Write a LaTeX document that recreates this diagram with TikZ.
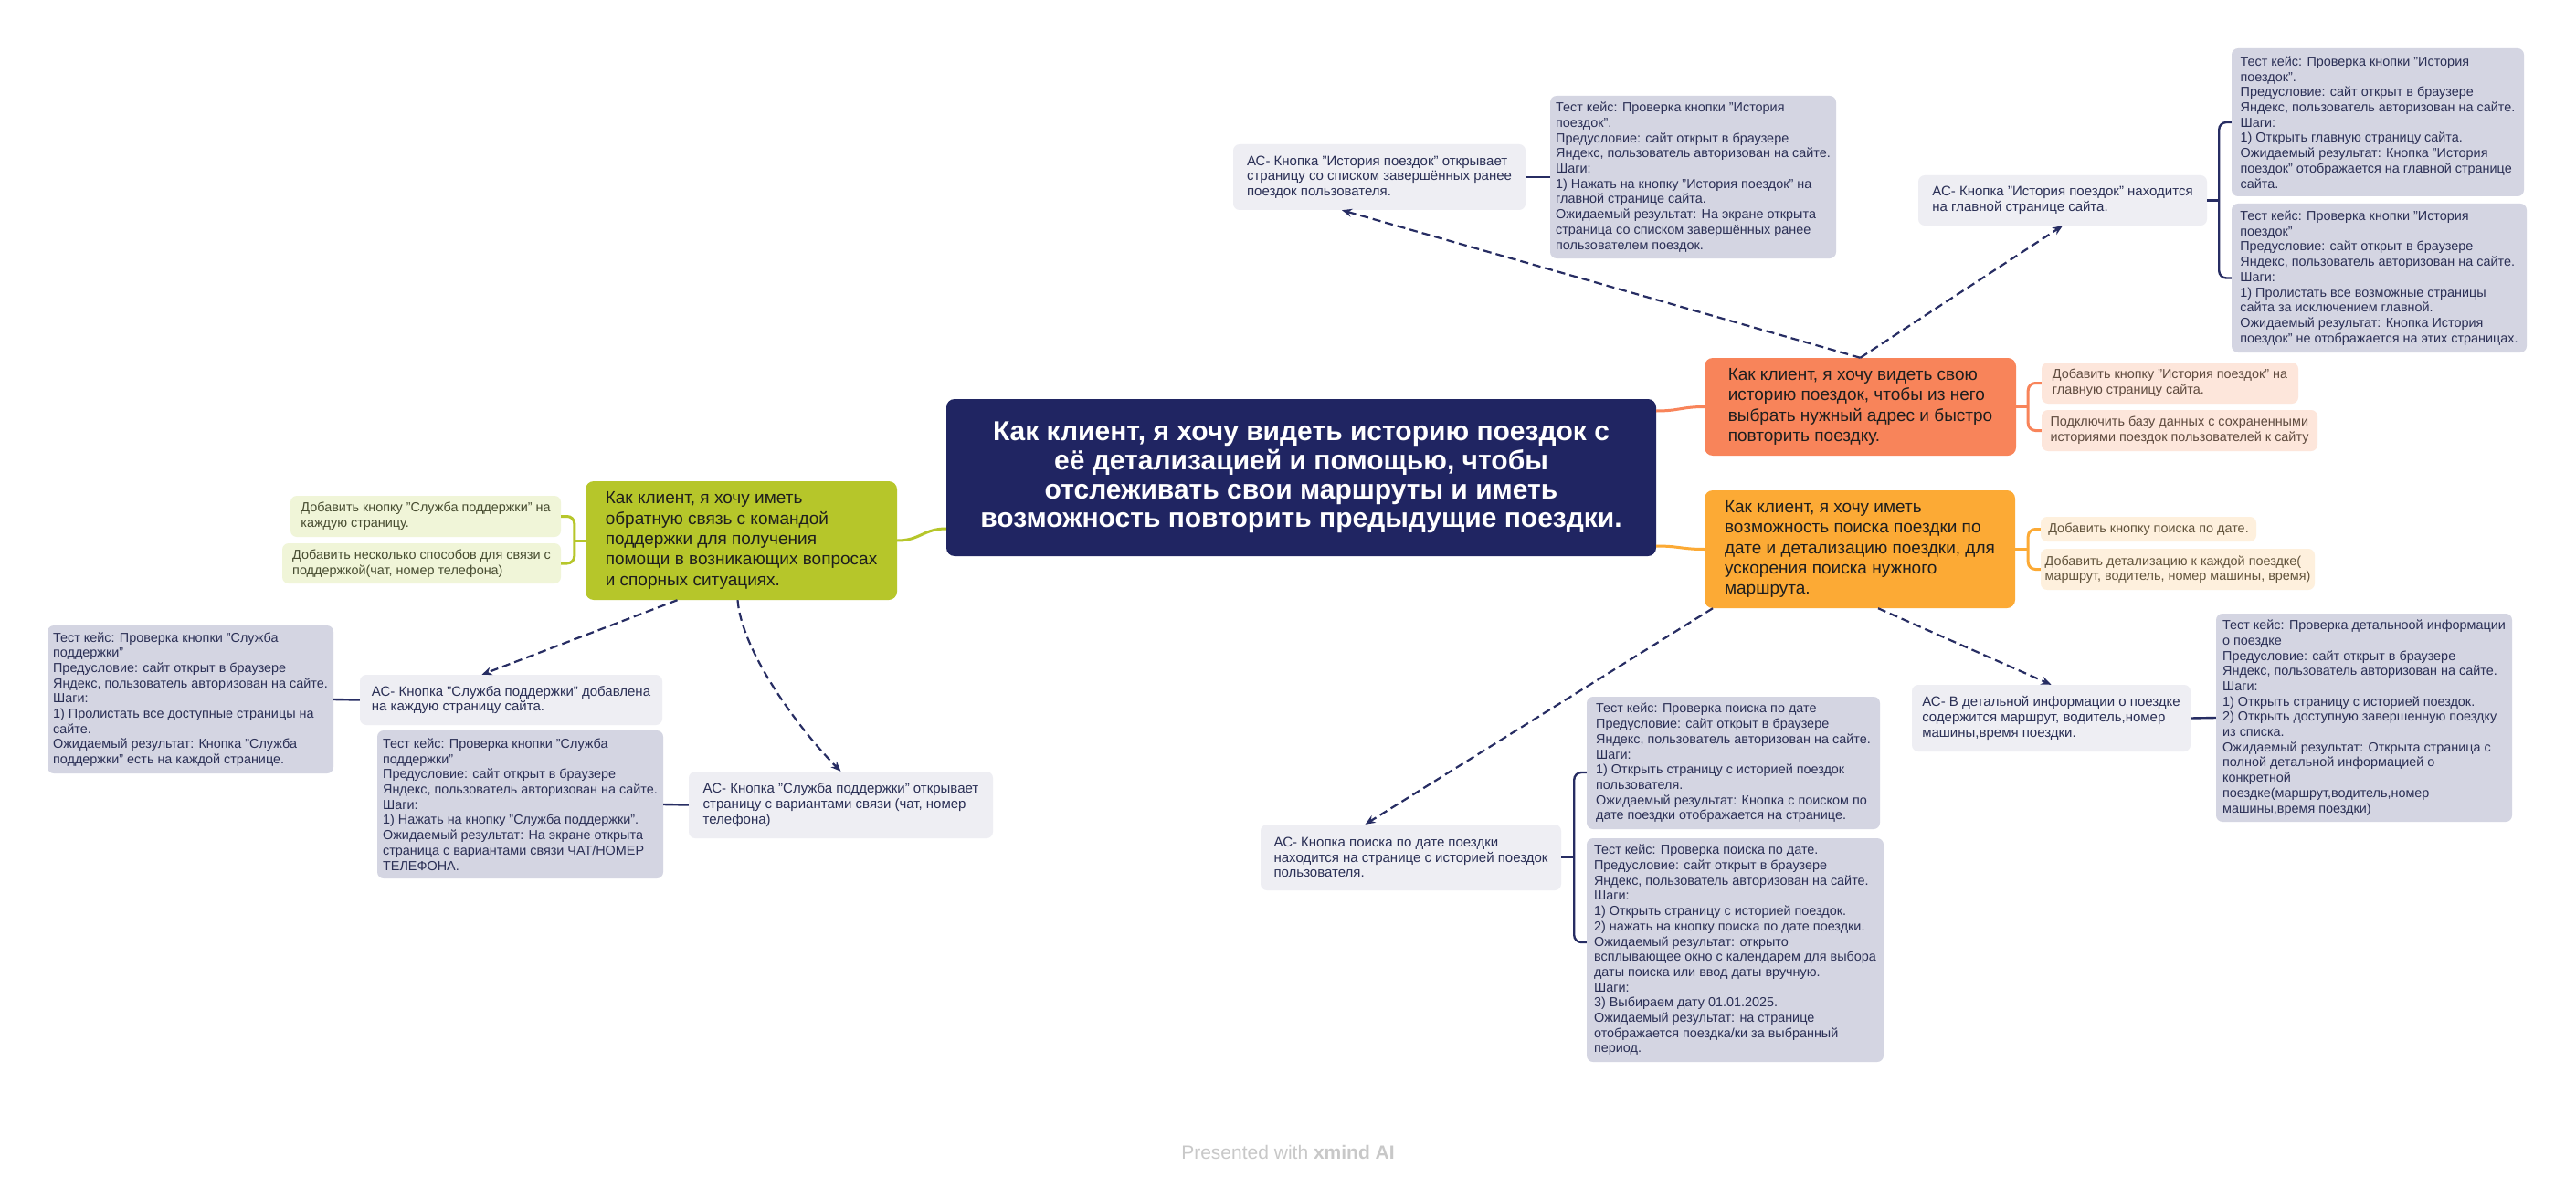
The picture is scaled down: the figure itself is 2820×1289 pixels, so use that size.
\documentclass[tikz,border=0pt]{standalone}
\usepackage{fontspec}
\setmainfont{Liberation Sans}
\usetikzlibrary{calc,arrows.meta}
\definecolor{navy}{HTML}{202562}
\definecolor{lnavy}{HTML}{272D63}
\definecolor{txt}{HTML}{2A2F55}
\definecolor{acbg}{HTML}{EEEEF3}
\definecolor{tcbg}{HTML}{D4D5E2}
\definecolor{fone}{HTML}{F8845A}
\definecolor{ftwo}{HTML}{FCAA35}
\definecolor{fgr}{HTML}{B6C62A}
\definecolor{onebg}{HTML}{FDE6DB}
\definecolor{twobg}{HTML}{FEF0DD}
\definecolor{grbg}{HTML}{F0F5D8}
\definecolor{onetx}{HTML}{5E4A3E}
\definecolor{twotx}{HTML}{62543C}
\definecolor{grtx}{HTML}{474C30}
\definecolor{ftxt}{HTML}{1E1E1E}
\definecolor{wm}{HTML}{C8C8C8}
\newcommand\mysmall{\fontsize{14.4pt}{16.7pt}\selectfont}
\newcommand\myac{\fontsize{15pt}{16.7pt}\selectfont}
\newcommand\mymid{\fontsize{19pt}{22.3pt}\selectfont}
\newcommand\mybig{\fontsize{30pt}{31.7pt}\selectfont\bfseries}
\newcommand\mywm{\fontsize{21pt}{24pt}\selectfont}
\begin{document}
\begin{tikzpicture}[x=1pt,y=-1pt,
  box/.style={rounded corners=7pt, inner sep=0pt, align=left, anchor=center},
  tcbox/.style={box, fill=tcbg, text=txt, font=\mysmall},
  acbox/.style={box, fill=acbg, text=txt, font=\myac},
  featbox/.style={box, font=\mymid, text=ftxt, rounded corners=9pt},
  onech/.style={box, fill=onebg, text=onetx, font=\mysmall},
  twoch/.style={box, fill=twobg, text=twotx, font=\mysmall},
  grch/.style={box, fill=grbg, text=grtx, font=\mysmall},
  nline/.style={draw=lnavy, line width=2.4pt},
  brk/.style={nline, rounded corners=8pt},
  rel/.style={draw=lnavy, line width=2.2pt, dash pattern=on 9pt off 5pt, -{Stealth[length=11pt,width=9pt]}},
  onel/.style={draw=fone, line width=3pt},
  twol/.style={draw=ftwo, line width=3pt},
  grl/.style={draw=fgr, line width=3pt}
]
\useasboundingbox[fill=white] (0,0) rectangle (2820,1289);

% central
\node[box, fill=navy, text=white, font=\mybig, align=center, rounded corners=9pt,
  minimum width=777pt, minimum height=172pt] (c) at (1424.5,523)
  {Как клиент, я хочу видеть историю поездок с\\её детализацией и помощью, чтобы\\отслеживать свои маршруты и иметь\\возможность повторить предыдущие поездки.};

% feature nodes
\node[featbox, fill=fone, minimum width=341pt, minimum height=107pt] (f1) at (2036.5,445.5)
  {Как клиент, я хочу видеть свою\\историю поездок, чтобы из него\\выбрать нужный адрес и быстро\\повторить поездку.};
\node[featbox, fill=ftwo, minimum width=340pt, minimum height=129pt] (f2) at (2036,601.5)
  {Как клиент, я хочу иметь\\возможность поиска поездки по\\дате и детализацию поездки, для\\ускорения поиска нужного\\маршрута.};
\node[featbox, fill=fgr, minimum width=341pt, minimum height=130pt] (g) at (811.5,592)
  {Как клиент, я хочу иметь\\обратную связь с командой\\поддержки для получения\\помощи в возникающих вопросах\\и спорных ситуациях.};

% children of features
\node[onech, minimum width=281pt, minimum height=45pt] (f1a) at (2375.5,419.5)
  {Добавить кнопку "История поездок" на\\главную страницу сайта.};
\node[onech, minimum width=302pt, minimum height=45pt] (f1b) at (2386,471.5)
  {Подключить базу данных с сохраненными\\историями поездок пользователей к сайту};
\node[twoch, minimum width=236pt, minimum height=27pt] (f2a) at (2352,579.5)
  {Добавить кнопку поиска по дате.};
\node[twoch, minimum width=300pt, minimum height=45pt] (f2b) at (2384,623.5)
  {Добавить детализацию к каждой поездке(\\маршрут, водитель, номер машины, время)};
\node[grch, minimum width=296pt, minimum height=45pt] (ga) at (466,565.5)
  {Добавить кнопку "Служба поддержки" на\\каждую страницу.};
\node[grch, minimum width=305pt, minimum height=44pt] (gb) at (461.5,617)
  {Добавить несколько способов для связи с\\поддержкой(чат, номер телефона)};

% AC nodes
\node[acbox, minimum width=320pt, minimum height=72pt] (ac1) at (1510,194)
  {АС- Кнопка "История поездок" открывает\\страницу со списком завершённых ранее\\поездок пользователя.};
\node[acbox, minimum width=316pt, minimum height=55pt] (ac2) at (2258,219.5)
  {АС- Кнопка "История поездок" находится\\на главной странице сайта.};
\node[acbox, minimum width=331pt, minimum height=55pt] (ac3) at (559.5,766.5)
  {АС- Кнопка "Служба поддержки" добавлена\\на каждую страницу сайта.};
\node[acbox, minimum width=333pt, minimum height=73pt] (ac4) at (920.5,881.5)
  {АС- Кнопка "Служба поддержки" открывает\\страницу с вариантами связи (чат, номер\\телефона)};
\node[acbox, minimum width=329pt, minimum height=72pt] (ac5) at (1544.5,939)
  {АС- Кнопка поиска по дате поездки\\находится на странице с историей поездок\\пользователя.};
\node[acbox, minimum width=305pt, minimum height=73pt] (ac6) at (2245.5,786.5)
  {АС- В детальной информации о поездке\\содержится маршрут, водитель,номер\\машины,время поездки.};

% test case nodes
\node[tcbox, minimum width=313pt, minimum height=178pt] (tc1) at (1853.5,194)
  {Тест кейс: Проверка кнопки "История\\поездок".\\Предусловие: сайт открыт в браузере\\Яндекс, пользователь авторизован на сайте.\\Шаги:\\1) Нажать на кнопку "История поездок" на\\главной странице сайта.\\Ожидаемый результат: На экране открыта\\страница со списком завершённых ранее\\пользователем поездок.};
\node[tcbox, minimum width=320pt, minimum height=162pt] (tc2a) at (2603,134)
  {Тест кейс: Проверка кнопки "История\\поездок".\\Предусловие: сайт открыт в браузере\\Яндекс, пользователь авторизован на сайте.\\Шаги:\\1) Открыть главную страницу сайта.\\Ожидаемый результат: Кнопка "История\\поездок" отображается на главной странице\\сайта.};
\node[tcbox, minimum width=323pt, minimum height=163pt] (tc2b) at (2604.5,304.5)
  {Тест кейс: Проверка кнопки "История\\поездок"\\Предусловие: сайт открыт в браузере\\Яндекс, пользователь авторизован на сайте.\\Шаги:\\1) Пролистать все возможные страницы\\сайта за исключением главной.\\Ожидаемый результат: Кнопка История\\поездок" не отображается на этих страницах.};
\node[tcbox, minimum width=313pt, minimum height=162pt] (tc3) at (208.5,766)
  {Тест кейс: Проверка кнопки "Служба\\поддержки"\\Предусловие: сайт открыт в браузере\\Яндекс, пользователь авторизован на сайте.\\Шаги:\\1) Пролистать все доступные страницы на\\сайте.\\Ожидаемый результат: Кнопка "Служба\\поддержки" есть на каждой странице.};
\node[tcbox, minimum width=313pt, minimum height=162pt] (tc4) at (569.5,881)
  {Тест кейс: Проверка кнопки "Служба\\поддержки"\\Предусловие: сайт открыт в браузере\\Яндекс, пользователь авторизован на сайте.\\Шаги:\\1) Нажать на кнопку "Служба поддержки".\\Ожидаемый результат: На экране открыта\\страница с вариантами связи ЧАТ/НОМЕР\\ТЕЛЕФОНА.};
\node[tcbox, minimum width=321pt, minimum height=145pt] (tc5a) at (1897.5,835.5)
  {Тест кейс: Проверка поиска по дате\\Предусловие: сайт открыт в браузере\\Яндекс, пользователь авторизован на сайте.\\Шаги:\\1) Открыть страницу с историей поездок\\пользователя.\\Ожидаемый результат: Кнопка с поиском по\\дате поездки отображается на странице.};
\node[tcbox, minimum width=325pt, minimum height=245pt] (tc5b) at (1899.5,1040.5)
  {Тест кейс: Проверка поиска по дате.\\Предусловие: сайт открыт в браузере\\Яндекс, пользователь авторизован на сайте.\\Шаги:\\1) Открыть страницу с историей поездок.\\2) нажать на кнопку поиска по дате поездки.\\Ожидаемый результат: открыто\\всплывающее окно с календарем для выбора\\даты поиска или ввод даты вручную.\\Шаги:\\3) Выбираем дату 01.01.2025.\\Ожидаемый результат: на странице\\отображается поездка/ки за выбранный\\период.};
\node[tcbox, minimum width=324pt, minimum height=228pt] (tc6) at (2588,786)
  {Тест кейс: Проверка детальноой информации\\о поездке\\Предусловие: сайт открыт в браузере\\Яндекс, пользователь авторизован на сайте.\\Шаги:\\1) Открыть страницу с историей поездок.\\2) Открыть доступную завершенную поездку\\из списка.\\Ожидаемый результат: Открыта страница с\\полной детальной информацией о\\конкретной\\поездке(маршрут,водитель,номер\\машины,время поездки)};

% watermark
\node[text=wm, font=\mywm, inner sep=0pt] (wmk) at (1410,1262) {Presented with \textbf{xmind AI}};

% central connectors
\draw[onel] ($(c.east)+(0,-73)$) .. controls +(25,0) and +(-25,0) .. (f1.west);
\draw[twol] ($(c.east)+(0,75)$) .. controls +(25,0) and +(-25,0) .. (f2.west);
\draw[grl] (g.east) .. controls +(25,0) and +(-25,0) .. ($(c.west)+(0,56)$);

% feature brackets
\coordinate (bf1) at ($(f1.east)+(13,0)$);
\draw[onel] (f1.east) -- (bf1);
\draw[onel, rounded corners=8pt] (f1a.west) -| (bf1) |- (f1b.west);
\coordinate (bf2) at ($(f2.east)+(14,0)$);
\draw[twol] (f2.east) -- (bf2);
\draw[twol, rounded corners=8pt] (f2a.west) -| (bf2) |- (f2b.west);
\coordinate (bg) at ($(g.west)+(-12,0)$);
\draw[grl] (g.west) -- (bg);
\draw[grl, rounded corners=8pt] (ga.east) -| (bg) |- (gb.east);

% AC to test case connectors
\draw[nline] (ac1.east) -- (tc1.west);
\draw[nline] (ac3.west) -- (tc3.east);
\draw[nline] (ac4.west) -- (tc4.east);
\draw[nline] (ac6.east) -- (tc6.west);
\coordinate (b2) at ($(ac2.east)+(13,0)$);
\draw[nline] (ac2.east) -- (b2);
\draw[brk] (tc2a.west) -| (b2) |- (tc2b.west);
\coordinate (b5) at ($(ac5.east)+(14,0)$);
\coordinate (t5a) at ($(tc5a.west)+(0,10.5)$);
\coordinate (t5b) at ($(tc5b.west)+(0,-8.5)$);
\draw[nline] (ac5.east) -- (b5);
\draw[brk] (t5a) -| (b5) |- (t5b);

% relationship arrows
\draw[rel] (f1.north) -- ($(ac1.south)+(-41,0)$);
\draw[rel] (f1.north) -- (ac2.south);
\draw[rel] ($(g.south)+(-70,0)$) -- ($(ac3.north)+(-32,0)$);
\draw[rel] ($(g.south)+(-4,0)$) .. controls +(5,60) and +(-40,-40) .. (ac4.north);
\draw[rel] ($(f2.south)+(-161,0)$) -- ($(ac5.north)+(-50,0)$);
\draw[rel] ($(f2.south)+(20,0)$) -- (ac6.north);
\end{tikzpicture}
\end{document}
